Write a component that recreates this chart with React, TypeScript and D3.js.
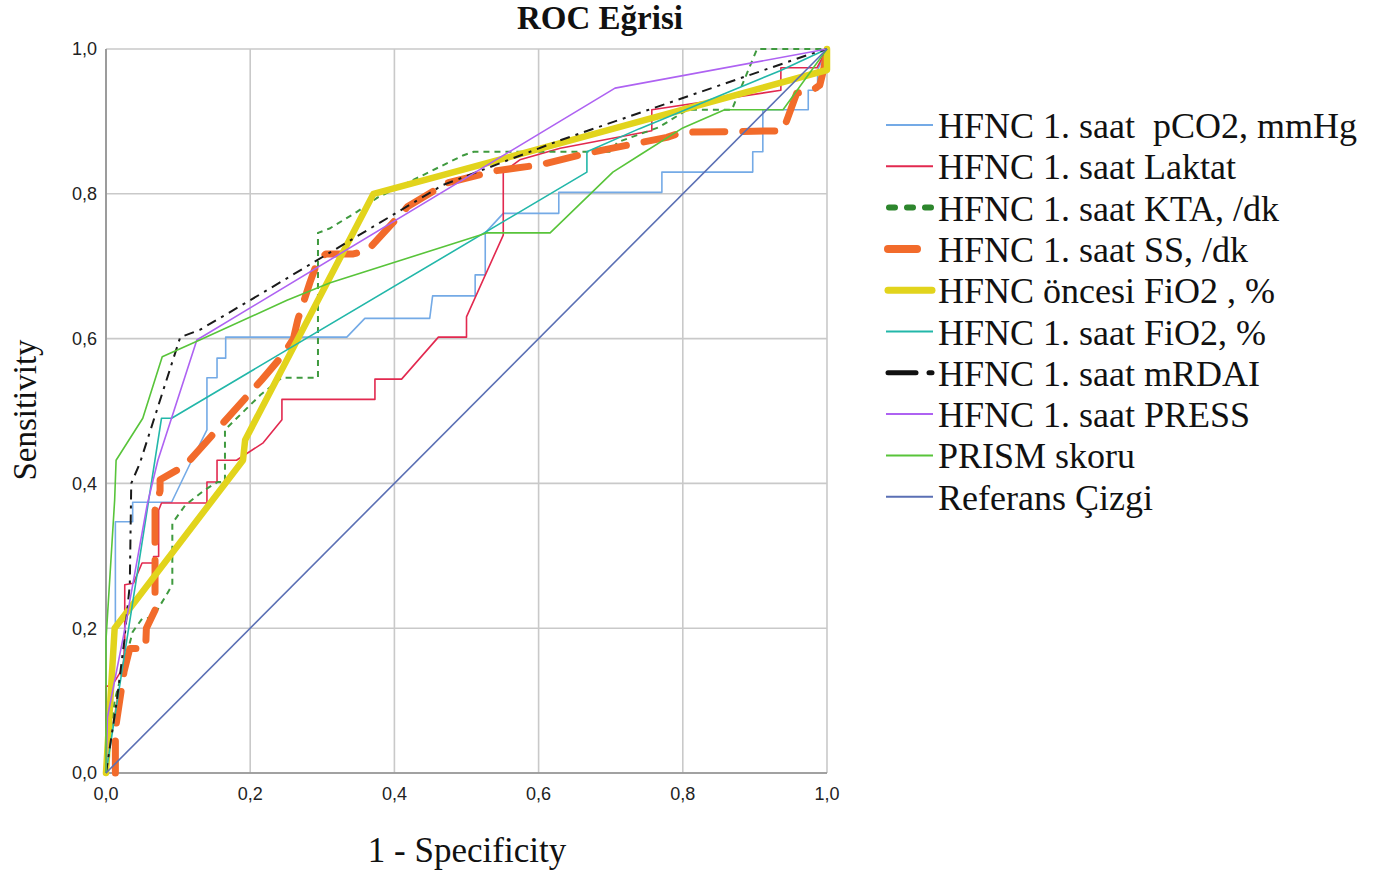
// @ts-nocheck
import * as d3 from "d3";
import React from "react";

// ROC points: [1 - specificity, sensitivity]
const pco2 = [
  [0, 0], [0.013, 0.2], [0.013, 0.347], [0.037, 0.347], [0.037, 0.374], [0.091, 0.374],
  [0.119, 0.432], [0.14, 0.474], [0.14, 0.546], [0.154, 0.546], [0.154, 0.573],
  [0.166, 0.573], [0.166, 0.602], [0.334, 0.602], [0.359, 0.628], [0.449, 0.628],
  [0.453, 0.659], [0.512, 0.659], [0.512, 0.688], [0.526, 0.688], [0.526, 0.746],
  [0.551, 0.773], [0.628, 0.773], [0.628, 0.802], [0.771, 0.802], [0.771, 0.83],
  [0.897, 0.83], [0.897, 0.858], [0.911, 0.858], [0.911, 0.916], [0.974, 0.916],
  [0.974, 0.943], [0.987, 0.943], [0.987, 0.971], [1, 1],
];
const laktat = [
  [0, 0], [0, 0.12], [0.008, 0.12], [0.024, 0.146], [0.026, 0.184], [0.026, 0.26],
  [0.038, 0.262], [0.05, 0.29], [0.066, 0.29], [0.066, 0.299], [0.073, 0.299],
  [0.073, 0.363], [0.077, 0.373], [0.14, 0.373], [0.14, 0.402], [0.154, 0.402],
  [0.154, 0.432], [0.181, 0.432], [0.218, 0.456], [0.244, 0.488], [0.244, 0.516],
  [0.373, 0.516], [0.373, 0.544], [0.41, 0.544], [0.461, 0.602], [0.5, 0.602],
  [0.5, 0.63], [0.551, 0.743], [0.551, 0.83], [0.574, 0.847], [0.63, 0.863],
  [0.757, 0.887], [0.757, 0.916], [0.936, 0.943], [0.936, 0.974], [0.986, 0.974], [1, 1],
];
const kta = [
  [0, 0], [0.012, 0.1], [0.037, 0.195], [0.05, 0.213], [0.065, 0.215], [0.085, 0.248],
  [0.092, 0.26], [0.092, 0.345], [0.11, 0.37], [0.137, 0.391], [0.155, 0.402],
  [0.165, 0.402], [0.165, 0.474], [0.214, 0.522], [0.244, 0.546], [0.294, 0.546],
  [0.294, 0.746], [0.31, 0.752], [0.348, 0.775], [0.377, 0.795], [0.436, 0.824],
  [0.495, 0.853], [0.51, 0.858], [0.584, 0.858], [0.7, 0.858], [0.709, 0.871],
  [0.767, 0.892], [0.806, 0.916], [0.868, 0.916], [0.903, 1], [1, 1],
];
const ss = [
  [0.013, 0], [0.013, 0.06], [0.025, 0.14], [0.033, 0.172], [0.055, 0.172],
  [0.056, 0.2], [0.068, 0.225], [0.068, 0.28], [0.068, 0.363], [0.075, 0.39],
  [0.075, 0.405], [0.11, 0.425], [0.162, 0.483], [0.216, 0.543], [0.245, 0.577],
  [0.26, 0.6], [0.266, 0.626], [0.283, 0.678], [0.294, 0.708], [0.305, 0.717],
  [0.343, 0.717], [0.363, 0.722], [0.418, 0.782], [0.473, 0.815], [0.542, 0.832],
  [0.602, 0.84], [0.667, 0.856], [0.778, 0.878], [0.8, 0.885], [0.939, 0.887],
  [0.958, 0.939], [0.98, 0.943], [0.99, 0.95], [0.995, 0.97], [1, 1],
];
const fio2Oncesi = [
  [0, 0], [0.006, 0.1], [0.012, 0.2], [0.19, 0.432], [0.193, 0.46],
  [0.371, 0.8], [0.671, 0.881], [1, 0.971], [1, 1],
];
const fio2 = [
  [0, 0], [0.077, 0.49], [0.091, 0.49], [0.667, 0.83], [0.667, 0.858],
  [0.74, 0.89], [0.935, 0.97], [1, 1],
];
const mrdai = [
  [0, 0], [0.015, 0.1], [0.025, 0.18], [0.033, 0.26], [0.035, 0.4], [0.047, 0.428],
  [0.103, 0.602], [0.13, 0.612], [0.2, 0.653], [0.467, 0.812], [0.63, 0.874],
  [0.98, 0.994], [1, 1],
];
const press = [
  [0, 0], [0.002, 0.077], [0.024, 0.188], [0.057, 0.37], [0.072, 0.432],
  [0.126, 0.598], [0.706, 0.946], [1, 1],
];
const prism = [
  [0, 0], [0, 0.184], [0.012, 0.377], [0.014, 0.432], [0.051, 0.49], [0.078, 0.575],
  [0.13, 0.598], [0.251, 0.653], [0.311, 0.677], [0.528, 0.746], [0.616, 0.746],
  [0.703, 0.83], [0.741, 0.854], [0.8, 0.891], [0.858, 0.916], [0.939, 0.916], [1, 1],
];
const referans = [[0, 0], [1, 1]];

const legendLabels = [
  "HFNC 1. saat  pCO2, mmHg",
  "HFNC 1. saat Laktat",
  "HFNC 1. saat KTA, /dk",
  "HFNC 1. saat SS, /dk",
  "HFNC öncesi FiO2 , %",
  "HFNC 1. saat FiO2, %",
  "HFNC 1. saat mRDAI",
  "HFNC 1. saat PRESS",
  "PRISM skoru",
  "Referans Çizgi",
];

const ticks = [0, 0.2, 0.4, 0.6, 0.8, 1.0];
const tickLabels = ["0,0", "0,2", "0,4", "0,6", "0,8", "1,0"];

const series = [
  { data: pco2, color: "#74aae6", w: 1.6 },
  { data: laktat, color: "#e2294f", w: 1.6 },
  { data: kta, color: "#3f9a3f", w: 2, dash: "6,5" },
  { data: ss, color: "#f26b2b", w: 7, dash: "32,18", cap: "round" },
  { data: fio2Oncesi, color: "#e2d41c", w: 6.5, cap: "round" },
  { data: fio2, color: "#22b7a9", w: 1.6 },
  { data: mrdai, color: "#1a1a1a", w: 2, dash: "10,6,3,6" },
  { data: press, color: "#ae62f2", w: 1.6 },
  { data: prism, color: "#58c43a", w: 1.6 },
  { data: referans, color: "#5a6fb4", w: 1.6 },
];

const serif = "'Liberation Serif', 'Times New Roman', serif";
const sans = "'Liberation Sans', Arial, sans-serif";

export default function App() {
  const x = d3.scaleLinear([0, 1], [106, 827]);
  const y = d3.scaleLinear([0, 1], [773, 49]);
  const line = d3.line().x((d) => x(d[0])).y((d) => y(d[1]));

  const legendX = 886;
  const legendY = 125;
  const legendStep = 41.3;

  const legendSample = (i, s) => {
    const ly = legendY + i * legendStep;
    if (i === 2)
      return <line x1={legendX + 3} x2={legendX + 45} y1={ly} y2={ly} stroke="#2d862d" strokeWidth={6} strokeDasharray="6,12" strokeLinecap="round" />;
    if (i === 3)
      return <line x1={legendX + 2} x2={legendX + 31} y1={ly} y2={ly} stroke={s.color} strokeWidth={8} strokeLinecap="round" />;
    if (i === 4)
      return <line x1={legendX + 2} x2={legendX + 46} y1={ly} y2={ly} stroke={s.color} strokeWidth={7} strokeLinecap="round" />;
    if (i === 6)
      return (
        <g stroke="#111" strokeWidth={5} strokeLinecap="round">
          <line x1={legendX + 2} x2={legendX + 30} y1={ly} y2={ly} />
          <line x1={legendX + 43} x2={legendX + 46} y1={ly} y2={ly} />
        </g>
      );
    return <line x1={legendX} x2={legendX + 47} y1={ly} y2={ly} stroke={s.color} strokeWidth={2} />;
  };

  return (
    <svg width={1393} height={876} style={{ position: "absolute", left: 0, top: 0, display: "block", background: "#fff" }}>
      <rect width={1393} height={876} fill="#fff" />
      {/* grid */}
      <g stroke="#c9c9c9" strokeWidth={1.6}>
        {ticks.map((t) => (
          <line key={"gx" + t} x1={x(t)} x2={x(t)} y1={y(0)} y2={y(1)} />
        ))}
        {ticks.map((t) => (
          <line key={"gy" + t} x1={x(0)} x2={x(1)} y1={y(t)} y2={y(t)} />
        ))}
      </g>
      <g stroke="#8f8f8f" strokeWidth={1.6}>
        <line x1={x(0)} x2={x(0)} y1={y(0)} y2={y(1)} />
        <line x1={x(0)} x2={x(1)} y1={y(0)} y2={y(0)} />
      </g>
      {/* tick labels */}
      <g fontFamily={sans} fontSize={18} fill="#222">
        {ticks.map((t, i) => (
          <text key={"ty" + t} x={97} y={y(t)} dy="0.35em" textAnchor="end">{tickLabels[i]}</text>
        ))}
        {ticks.map((t, i) => (
          <text key={"tx" + t} x={x(t)} y={800} textAnchor="middle">{tickLabels[i]}</text>
        ))}
      </g>
      {/* curves */}
      {series.map((s, i) => (
        <path
          key={i}
          d={line(s.data)}
          fill="none"
          stroke={s.color}
          strokeWidth={s.w}
          strokeDasharray={s.dash}
          strokeLinecap={s.cap || "butt"}
          strokeLinejoin="round"
        />
      ))}
      {/* titles */}
      <text x={600} y={29} textAnchor="middle" fontFamily={serif} fontWeight="bold" fontSize={33} fill="#111">ROC Eğrisi</text>
      <text x={467} y={862} textAnchor="middle" fontFamily={serif} fontSize={35} fill="#111">1 - Specificity</text>
      <text transform="translate(36,410) rotate(-90)" textAnchor="middle" fontFamily={serif} fontSize={33} fill="#111">Sensitivity</text>
      {/* legend */}
      {series.map((s, i) => (
        <g key={"lg" + i}>
          {legendSample(i, s)}
          <text x={938} y={legendY + i * legendStep + 13} fontFamily={serif} fontSize={36} fill="#111" style={{ whiteSpace: "pre" }}>
            {legendLabels[i]}
          </text>
        </g>
      ))}
    </svg>
  );
}
